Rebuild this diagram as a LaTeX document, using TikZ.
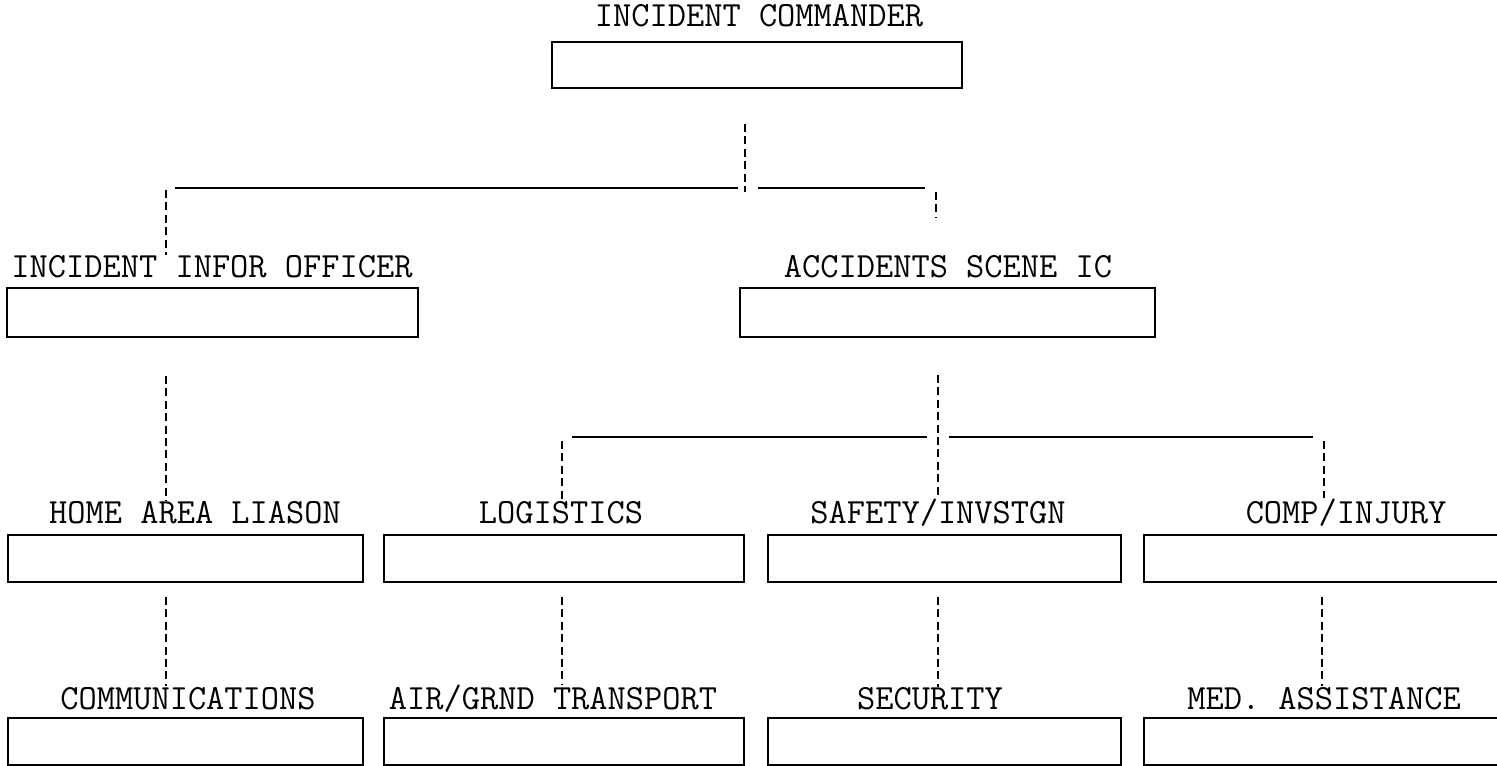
\documentclass[tikz,border=0pt]{standalone}
\usetikzlibrary{positioning,calc}

\newcommand{\chartfont}{\fontsize{17.7}{20}\selectfont\ttfamily}

\tikzset{
  post/.style={draw, line width=1pt, inner sep=0pt},
  title/.style={font=\chartfont, anchor=base, inner sep=0pt},
  link/.style={line width=0.9pt, dash pattern=on 4pt off 2.2pt},
  bus/.style={line width=1.1pt},
}

\begin{document}
\begin{tikzpicture}[x=0.5pt,y=-0.5pt]
  \useasboundingbox (0,0) rectangle (1497,765);

  % top level
  \node[post, minimum width=205pt, minimum height=23pt] (ic) at (757,65) {};
  \node[title] (ic-lbl) at (759,27) {INCIDENT COMMANDER};

  % second level
  \node[post, minimum width=205.5pt, minimum height=24.5pt] (info) at (212.5,312.5) {};
  \node[post, minimum width=207.5pt, minimum height=24.5pt] (scene) at (947.5,312.5) {};
  \node[title] (info-lbl) at (212,277) {INCIDENT INFOR OFFICER};
  \node[title] (scene-lbl) at (948,277) {ACCIDENTS SCENE IC};

  % third level
  \node[post, minimum width=177.5pt, minimum height=23.5pt] (home) at (185.5,558.5) {};
  \node[post, minimum width=180pt, minimum height=23.5pt] (logi) at (564,558.5) {};
  \node[post, minimum width=176.5pt, minimum height=23.5pt] (safety) at (944.5,558.5) {};
  \node[post, minimum width=180pt, minimum height=23.5pt] (comp) at (1324,558.5) {};
  \node[title] (home-lbl) at (195,523) {HOME AREA LIASON};
  \node[title] (logi-lbl) at (561,523) {LOGISTICS};
  \node[title] (safety-lbl) at (938,523) {SAFETY/INVSTGN};
  \node[title] (comp-lbl) at (1346,523) {COMP/INJURY};

  % bottom level
  \node[post, minimum width=177.5pt, minimum height=23.5pt] (comms) at (185.5,741.5) {};
  \node[post, minimum width=180pt, minimum height=23.5pt] (trans) at (564,741.5) {};
  \node[post, minimum width=176.5pt, minimum height=23.5pt] (secur) at (944.5,741.5) {};
  \node[post, minimum width=180pt, minimum height=23.5pt] (medic) at (1324,741.5) {};
  \node[title] (comms-lbl) at (188,709) {COMMUNICATIONS};
  \node[title] (trans-lbl) at (553,709) {AIR/GRND TRANSPORT};
  \node[title] (secur-lbl) at (930,709) {SECURITY};
  \node[title] (medic-lbl) at (1324,709) {MED. ASSISTANCE};

  % branch points
  \coordinate (ic-tail) at (745,124);
  \coordinate (top-mid) at (745,192);
  \coordinate (top-l) at (166,190);
  \coordinate (top-r) at (936,192);
  \coordinate (info-tail) at (166,376);
  \coordinate (scene-tail) at (938,375);
  \coordinate (mid-l) at (562,441);
  \coordinate (mid-r) at (1324,441);
  \coordinate (home-tail) at (166,597);
  \coordinate (logi-tail) at (562,597);
  \coordinate (safety-tail) at (938,597);
  \coordinate (comp-tail) at (1322,597);

  % commander down to the two sections
  \draw[link] (ic-tail) -- (top-mid);
  \draw[bus] (175,188) -- (738,188);
  \draw[bus] (758,188) -- (925,188);
  \draw[link] (top-l) -- (top-l |- info-lbl.north);
  \draw[link] (top-r) -- (936,218);

  % info officer to liaison
  \draw[link] (info-tail) -- (info-tail |- home-lbl.north);

  % scene IC to its three units
  \draw[link] (scene-tail) -- (scene-tail |- safety-lbl.north);
  \draw[bus] (572,437) -- (927,437);
  \draw[bus] (949,437) -- (1313,437);
  \draw[link] (mid-l) -- (mid-l |- logi-lbl.north);
  \draw[link] (mid-r) -- (mid-r |- comp-lbl.north);

  % third level to bottom level
  \foreach \u/\v in {home/comms, logi/trans, safety/secur, comp/medic}
    \draw[link] (\u-tail) -- (\u-tail |- \v-lbl.north);
\end{tikzpicture}
\end{document}
